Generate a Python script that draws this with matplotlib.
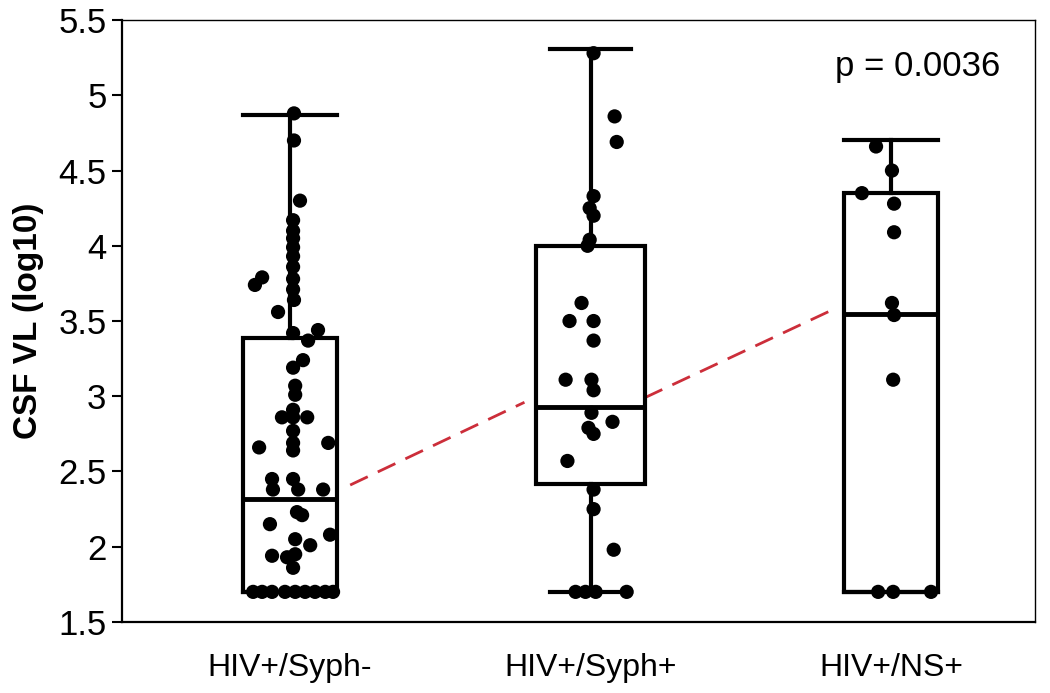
import matplotlib
matplotlib.use('Agg')
import matplotlib.pyplot as plt

# groups and box summary
groups = ["HIV+/Syph-", "HIV+/Syph+", "HIV+/NS+"]
positions = [1, 2, 3]
whislo = [1.70, 1.70, 1.70]
q1 = [1.70, 2.415, 1.70]
med = [2.32, 2.93, 3.55]
q3 = [3.39, 4.00, 4.35]
whishi = [4.87, 5.31, 4.70]

# individual patients (x = jittered position, y = log10 CSF VL)
g1_x = [1.013, 1.013, 1.033, 1.010, 1.010, 1.010, 1.010, 1.010, 1.010, 1.010,
        1.010, 1.013, 0.907, 0.883, 0.960, 1.010, 1.093, 1.060, 1.043, 1.010,
        1.017, 1.017, 1.010, 0.973, 1.010, 1.057, 1.010, 1.010, 1.010, 0.897,
        1.127, 0.940, 1.010, 0.943, 1.027, 1.110, 1.023, 1.040, 0.933, 1.133,
        1.017, 1.067, 0.940, 0.990, 1.017, 1.010,
        0.877, 0.907, 0.940, 0.983, 1.017, 1.050, 1.083, 1.117, 1.143]
g1_y = [4.88, 4.70, 4.30, 4.17, 4.10, 4.05, 3.99, 3.93, 3.86, 3.78,
        3.71, 3.64, 3.79, 3.74, 3.56, 3.42, 3.44, 3.37, 3.24, 3.19,
        3.07, 3.01, 2.91, 2.86, 2.86, 2.86, 2.77, 2.69, 2.64, 2.66,
        2.69, 2.45, 2.45, 2.38, 2.38, 2.38, 2.23, 2.21, 2.15, 2.08,
        2.05, 2.01, 1.94, 1.93, 1.95, 1.86,
        1.70, 1.70, 1.70, 1.70, 1.70, 1.70, 1.70, 1.70, 1.70]

g2_x = [2.010, 2.080, 2.087, 2.010, 1.997, 2.010, 1.997, 1.990, 1.970, 1.930,
        2.010, 2.010, 1.917, 2.003, 2.010, 2.003, 2.073, 1.993, 2.010, 1.923,
        2.010, 2.010, 2.077, 1.950, 1.983, 2.017, 2.120]
g2_y = [5.28, 4.86, 4.69, 4.33, 4.25, 4.20, 4.04, 4.00, 3.62, 3.50,
        3.50, 3.37, 3.11, 3.11, 3.04, 2.89, 2.83, 2.79, 2.75, 2.57,
        2.38, 2.25, 1.98, 1.70, 1.70, 1.70, 1.70]

g3_x = [2.950, 3.003, 2.903, 3.010, 3.010, 3.003, 3.010, 3.007, 2.957, 3.007, 3.133]
g3_y = [4.66, 4.50, 4.35, 4.28, 4.09, 3.62, 3.54, 3.11, 1.70, 1.70, 1.70]

# red dashed trend pieces between the boxes
trend_x = [[1.20, 1.78], [2.18, 2.80]]
trend_y = [[2.41, 2.96], [2.99, 3.57]]

p_text = "p = 0.0036"

fig = plt.figure(figsize=(10.5, 6.93), dpi=100)
ax = fig.add_axes([0.116, 0.1025, 0.870, 0.8685])

for tx, ty in zip(trend_x, trend_y):
    ax.plot(tx, ty, color='#cc2e3a', linewidth=2, dashes=(7, 4), zorder=1)

stats = []
for i in range(3):
    stats.append(dict(med=med[i], q1=q1[i], q3=q3[i], whislo=whislo[i], whishi=whishi[i]))
ax.bxp(stats, positions=positions, widths=[0.31, 0.36, 0.31], capwidths=[0.31, 0.27, 0.31],
       showfliers=False, patch_artist=True, zorder=2,
       boxprops=dict(facecolor='white', edgecolor='black', linewidth=3),
       medianprops=dict(color='black', linewidth=3.5),
       whiskerprops=dict(color='black', linewidth=3),
       capprops=dict(color='black', linewidth=3))

for xs, ys in [(g1_x, g1_y), (g2_x, g2_y), (g3_x, g3_y)]:
    ax.scatter(xs, ys, s=105, color='black', edgecolors='none', zorder=3)

ax.set_xlim(0.44, 3.48)
ax.set_ylim(1.5, 5.5)
ax.set_yticks([1.5, 2, 2.5, 3, 3.5, 4, 4.5, 5, 5.5])
ax.set_yticklabels(['1.5', '2', '2.5', '3', '3.5', '4', '4.5', '5', '5.5'])
ax.set_xticks(positions)
ax.set_xticklabels(groups, family=['Liberation Sans Narrow', 'Liberation Sans'], fontsize=23)
ax.tick_params(axis='x', length=0, pad=22)
ax.tick_params(axis='y', length=7, width=1.5, pad=4, labelsize=25, direction='out')
for lab in ax.get_yticklabels():
    lab.set_family('Liberation Sans')

for side in ['left', 'bottom']:
    ax.spines[side].set_linewidth(1.6)
for side in ['top', 'right']:
    ax.spines[side].set_linewidth(1.0)

ax.set_ylabel("CSF VL (log10)", fontsize=24, fontweight='bold', family='Liberation Sans', labelpad=10)
ax.text(2.814, 5.19, p_text, fontsize=25, family='Liberation Sans', ha='left', va='center')

fig.savefig('out.png', dpi=100)
